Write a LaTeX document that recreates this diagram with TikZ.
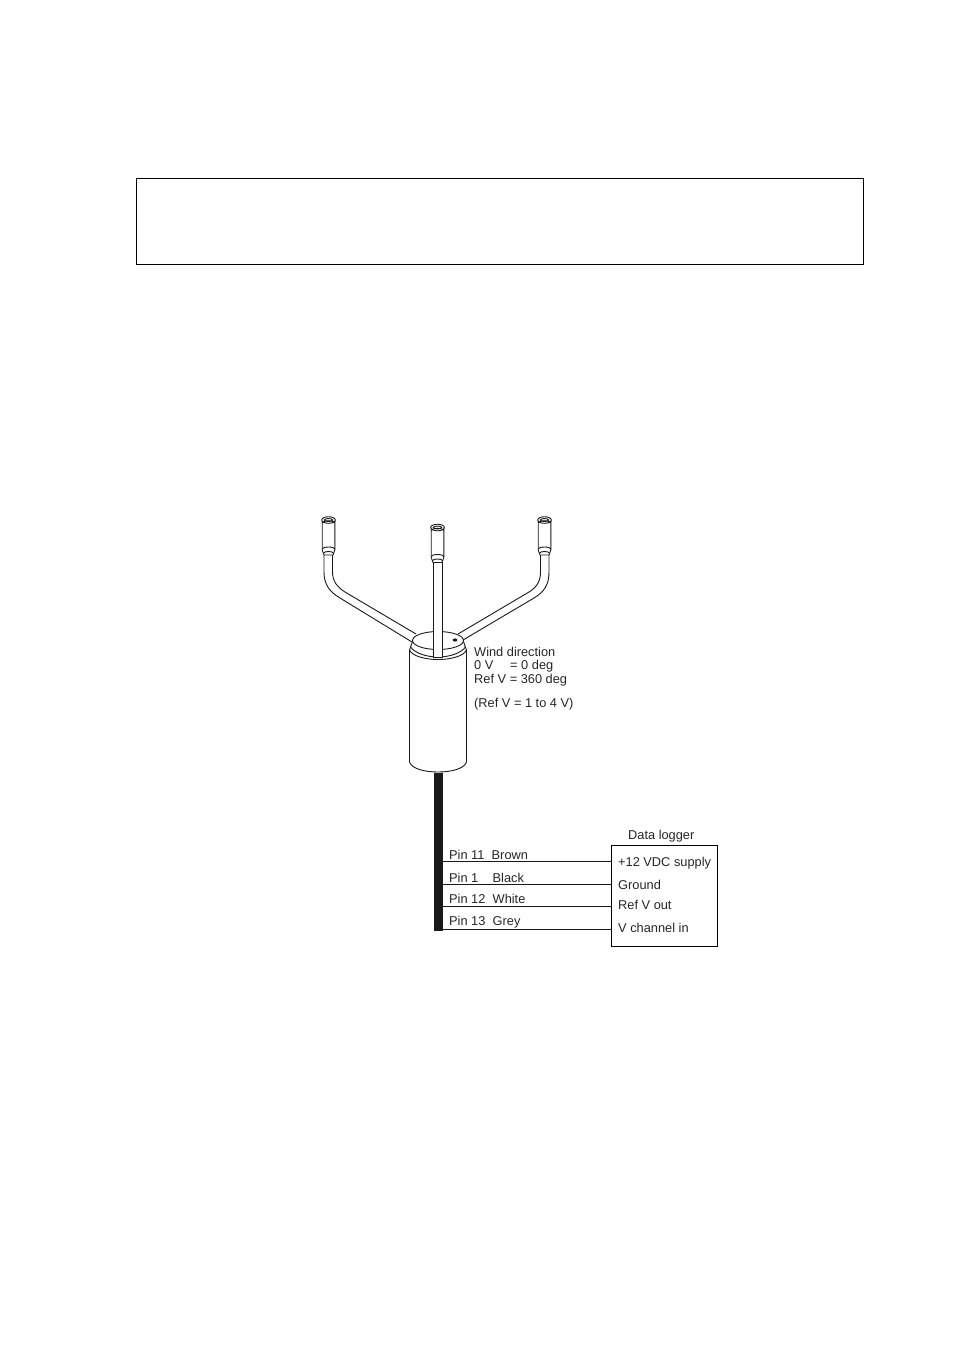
\documentclass[tikz,border=0pt]{standalone}
\usepackage{fontspec}
\setmainfont{Liberation Sans}
\usetikzlibrary{positioning}
\tikzset{%
    every node/.style={font=\fontsize{12.8}{14}\selectfont,inner sep=0pt,text=black!85},
    label/.style={anchor=base west},
    line/.style={line width=0.9pt,black!90},
    wire/.style={line width=1pt,black!90},
    pics/cup/.style={code={%
            % sleeve
            \draw[line,fill=white] (-6.3,3) -- (-6.3,33) -- (-4.5,38) -- (4.5,38) -- (6.3,33) -- (6.3,3);
            % collar
            \draw[line,fill=white] (0,3) ellipse (6.8 and 3.3);
            \draw[line] (0,3) ellipse (4.2 and 1.5);
            \draw[line] (-6.3,6) arc[start angle=180,end angle=360,x radius=6.3,y radius=2.2];
            \draw[line] (-6.3,32) arc[start angle=180,end angle=360,x radius=6.3,y radius=2];
            \draw[line] (-4.8,36) arc[start angle=180,end angle=360,x radius=4.8,y radius=1.5];
        }},
}

\begin{document}
\begin{tikzpicture}[x=1pt,y=-1pt]
    \useasboundingbox (0,0) rectangle (954,1350);

    % empty frame
    \node[draw,line width=0.9pt,minimum width=727pt,minimum height=86pt,anchor=north west] (frame) at (136,178) {};

    % arms
    \draw[line] (324,555) -- (324,572) .. controls (324,585) and (330,592) .. (340,598) -- (412,642);
    \draw[line] (332.5,555) -- (332.5,572) .. controls (332.5,581) and (337,587) .. (345,592) -- (416,634);
    \draw[line] (549,555) -- (549,572) .. controls (549,585) and (544,592) .. (534,598) -- (463,640);
    \draw[line] (540.5,555) -- (540.5,572) .. controls (540.5,581) and (537,587) .. (529,592) -- (458,634);

    % sensor body
    \draw[line,fill=white] (409.5,650) -- (409.5,762) .. controls (412,769) and (425,772) .. (438,772)
        .. controls (451,772) and (464,769) .. (466.5,762) -- (466.5,650)
        .. controls (465,646) and (464,643) .. (463,640) -- (413,640) .. controls (412,643) and (411,646) .. (409.5,650) -- cycle;
    \draw[line] (409.5,650) .. controls (412,656) and (425,659.5) .. (438,659.5) .. controls (451,659.5) and (464,656) .. (466.5,650);
    \draw[line] (410.5,647) .. controls (415,653) and (426,657) .. (438,657) .. controls (450,657) and (461,653) .. (465.5,647);
    \draw[line,fill=white] (438,640.5) ellipse (25.5 and 9);
    \fill[black!90] (455,640) ellipse (2.4 and 1.6);

    % centre arm
    \draw[line,fill=white] (433.5,560) rectangle (442.5,657);

    % cups
    \pic at (328.5,517) {cup};
    \pic at (437.5,524.5) {cup};
    \pic at (544.5,517) {cup};

    % cable
    \node[fill=black!90,minimum width=9pt,minimum height=158pt,anchor=north] (cable) at (438.5,772.5) {};

    % data logger
    \node[draw,line width=0.9pt,minimum width=106pt,minimum height=101pt,anchor=north west] (logger) at (611,845) {};
    \node[label] (loggertitle) at (628,839) {Data logger};
    \node[label] (supply) at (618,866) {+12 VDC supply};
    \node[label] (ground) at (618,889) {Ground};
    \node[label] (refout) at (618,909.5) {Ref V out};
    \node[label] (chanin) at (618,932) {V channel in};

    % wires
    \coordinate (wirea) at (611,861.5);
    \coordinate (wireb) at (611,884.5);
    \coordinate (wirec) at (611,906.5);
    \coordinate (wired) at (611,929.5);
    \foreach \w in {wirea,wireb,wirec,wired}
        \draw[wire] (\w-|cable.east) -- (\w);

    % wire labels
    \node[label] (pina) at (449,859.5) {Pin 11};
    \node[label] (pinb) at (449,882) {Pin 1};
    \node[label] (pinc) at (449,903) {Pin 12};
    \node[label] (pind) at (449,925) {Pin 13};
    \node[label] (colora) at (491.5,859.5) {Brown};
    \node[label] (colorb) at (492.5,882) {Black};
    \node[label] (colorc) at (492.5,903) {White};
    \node[label] (colord) at (492.5,925) {Grey};

    % wind direction text
    \node[label] (winddir) at (474,656) {Wind direction};
    \node[label] (zerov) at (474,669.5) {0 V};
    \node[label] (zerodeg) at (510,669.5) {= 0 deg};
    \node[label] (refv) at (474,683.5) {Ref V = 360 deg};
    \node[label] (refrange) at (474,707) {(Ref V = 1 to 4 V)};
\end{tikzpicture}
\end{document}
